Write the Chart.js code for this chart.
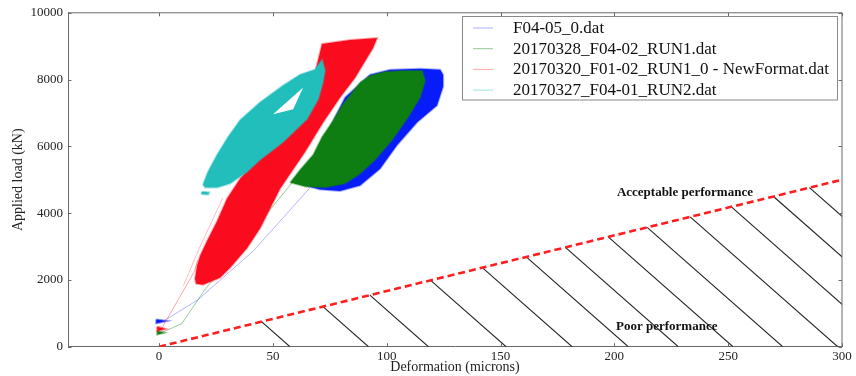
<!DOCTYPE html>
<html><head><meta charset="utf-8">
<script src="https://cdn.jsdelivr.net/npm/chart.js@4.4.0/dist/chart.umd.min.js"></script>
<style>html,body{margin:0;padding:0;background:#fff}#wrap{width:856px;height:376px}</style>
</head><body><div id="wrap"><canvas id="c" width="856" height="376"></canvas></div>
<script>
// ---- data (deformation in microns, applied load in kN) ----
const seriesNames = ['F04-05_0.dat', '20170328_F04-02_RUN1.dat', '20170320_F01-02_RUN1_0 - NewFormat.dat', '20170327_F04-01_RUN2.dat'];
const xTickValues = [0, 50, 100, 150, 200, 250, 300];
const yTickValues = [0, 2000, 4000, 6000, 8000, 10000];

// envelopes of the dense cyclic loops
const blueLoopX = [64.1, 70.7, 79.5, 88.3, 97.1, 104.6, 113.4, 122.1, 124.8, 124.8, 123.5, 114.7, 101.5, 92.7, 81.7, 75.1, 67.2];
const blueLoopY = [4825, 4706, 4662, 4825, 5329, 6041, 6723, 7227, 7791, 8147, 8295, 8325, 8295, 8147, 7465, 6575, 5389];
const greenLoopX = [57.6, 62.0, 67.7, 71.6, 76.0, 80.4, 84.8, 88.3, 92.7, 99.3, 108.1, 115.6, 116.9, 114.7, 109.4, 102.4, 94.9, 88.3, 81.7, 72.9, 64.1];
const greenLoopY = [4915, 5300, 5745, 6278, 6723, 7227, 7613, 7909, 8117, 8235, 8265, 8265, 7968, 7465, 6872, 6190, 5597, 5181, 4885, 4766, 4796];
const redLoopX = [15.8, 16.7, 18.0, 21.1, 25.5, 29.9, 35.6, 46.6, 57.6, 65.5, 68.5, 71.6, 83.9, 95.8, 94.0, 91.4, 86.1, 79.5, 72.1, 64.1, 57.6, 53.2, 48.8, 44.4, 38.7, 31.2, 26.8, 19.3, 16.3];
const redLoopY = [2037, 2423, 2719, 3164, 3757, 4440, 5033, 5893, 6782, 7613, 8206, 9066, 9185, 9244, 8947, 8651, 8058, 7465, 6723, 5834, 5181, 4736, 4143, 3550, 2957, 2364, 2067, 1859, 1888];
const cyanLoopX = [19.3, 21.5, 25.5, 30.3, 35.6, 44.4, 54.5, 62.0, 68.5, 71.6, 72.9, 72.0, 69.9, 65.0, 54.5, 44.4, 38.7, 31.2, 25.5, 20.2];
const cyanLoopY = [4858, 5243, 5748, 6282, 6786, 7320, 7825, 8151, 8299, 8596, 8270, 7914, 7409, 6816, 6133, 5599, 5243, 4887, 4769, 4769];
const cyanHoleX = [50.1, 63.3, 58.9];
const cyanHoleY = [6962, 7764, 7112];
const cyanDotX = [18.8, 22.0, 21.6, 18.8];
const cyanDotY = [4640, 4620, 4560, 4570];

// first-load paths from the origin
const blueStartX = [-1.2, 3.4, -1.2];   const blueStartY = [815, 770, 705];
const redStartX = [-0.8, 2.8, -0.8];    const redStartY = [600, 530, 470];
const greenStartX = [-0.8, 2.2, -0.8];  const greenStartY = [470, 418, 365];
const blueTrailX = [2, 17, 41.4, 66];   const blueTrailY = [770, 1400, 2868, 4738];
const greenTrailX = [1, 10, 20, 60];    const greenTrailY = [420, 690, 1700, 5040];
const redTrailX = [1, 15.5, 17];        const redTrailY = [530, 2250, 2600];
const redStrandX = [10.7, 18, 28];      const redStrandY = [1830, 3000, 4450];

// performance criterion and hatching
const criterionX = [0, 300];
const criterionY = [0, 5000];
const hatchStartX = [45, 72, 92.6, 119.3, 142, 161.3, 178.5, 197.3, 214.4, 233.3, 251.4, 269.9, 285.7];
const hatchSlope = -60; // kN per micron
const acceptableLabel = {text: 'Acceptable performance', x: 231, y: 4600};
const poorLabel = {text: 'Poor performance', x: 223, y: 612};

// ---- build datasets ----
const pts = (xs, ys) => xs.map((v, i) => ({x: v, y: ys[i]}));
const closed = (xs, ys) => { const p = pts(xs, ys); p.push({...p[0]}); return p; };
const critSlope = (criterionY[1] - criterionY[0]) / (criterionX[1] - criterionX[0]);

const COL = {
  blue: 'rgb(8,28,250)', green: 'rgb(14,126,18)', red: 'rgb(250,12,30)', cyan: 'rgb(34,190,188)'
};
const legendLines = ['rgba(70,70,255,0.45)', 'rgba(20,130,20,0.45)', 'rgba(255,40,40,0.4)', 'rgba(30,200,190,0.45)'];

const datasets = [];
function loop(xs, ys, fillCol, edgeCol, order, extra) {
  datasets.push(Object.assign({data: closed(xs, ys), showLine: true, borderColor: edgeCol, borderWidth: 2,
    pointRadius: 0, polyFill: fillCol, order: order}, extra || {}));
}
function path(xs, ys, col, w, order) {
  datasets.push({data: pts(xs, ys), showLine: true, borderColor: col, borderWidth: w, pointRadius: 0, order: order});
}
// blue (bottom), green, red, cyan (top)
path(blueTrailX, blueTrailY, 'rgba(90,90,255,0.45)', 1, 40);
loop(blueStartX, blueStartY, COL.blue, 'rgba(8,28,250,0.5)', 39);
loop(blueLoopX, blueLoopY, COL.blue, 'rgba(8,28,250,0.35)', 38);
path(greenTrailX, greenTrailY, 'rgba(30,140,30,0.45)', 1, 30);
loop(greenStartX, greenStartY, COL.green, 'rgba(14,126,18,0.5)', 29);
loop(greenLoopX, greenLoopY, COL.green, 'rgba(14,126,18,0.35)', 28);
path(redTrailX, redTrailY, 'rgba(255,60,60,0.45)', 1, 20);
path(redStrandX, redStrandY, 'rgba(255,60,60,0.35)', 1, 20);
loop(redStartX, redStartY, COL.red, 'rgba(250,12,30,0.5)', 19);
loop(redLoopX, redLoopY, COL.red, 'rgba(250,12,30,0.35)', 18);
loop(cyanDotX, cyanDotY, COL.cyan, 'rgba(34,190,188,0.5)', 11);
loop(cyanLoopX, cyanLoopY, COL.cyan, 'rgba(34,190,188,0.4)', 10, {holeX: cyanHoleX, holeY: cyanHoleY});
hatchStartX.forEach(x0 => {
  const y0 = x0 * critSlope;
  datasets.push({data: [{x: x0, y: y0}, {x: x0 - y0 / hatchSlope, y: 0}], showLine: true,
    borderColor: '#222', borderWidth: 1.1, pointRadius: 0, order: 50});
});
datasets.push({data: pts(criterionX, criterionY), showLine: true, borderColor: 'rgb(255,30,30)', borderWidth: 2.6,
  borderDash: [7, 4], pointRadius: 0, order: 0});

// ---- plugins ----
const polyFill = {
  id: 'polyFill',
  beforeDatasetDraw(chart, args) {
    const ds = chart.data.datasets[args.index];
    if (!ds.polyFill) return;
    const {ctx, chartArea: a, scales: {x, y}} = chart;
    const p = args.meta.data;
    ctx.save();
    ctx.beginPath(); ctx.rect(a.left, a.top, a.right - a.left, a.bottom - a.top); ctx.clip();
    ctx.beginPath();
    p.forEach((pt, i) => i ? ctx.lineTo(pt.x, pt.y) : ctx.moveTo(pt.x, pt.y));
    ctx.closePath();
    if (ds.holeX) {
      ds.holeX.forEach((hx, i) => {
        const px = x.getPixelForValue(hx), py = y.getPixelForValue(ds.holeY[i]);
        i ? ctx.lineTo(px, py) : ctx.moveTo(px, py);
      });
      ctx.closePath();
    }
    ctx.fillStyle = ds.polyFill;
    ctx.fill('evenodd');
    ctx.restore();
  }
};

const SERIF = "'Liberation Serif', 'DejaVu Serif', serif";
const frame = {
  id: 'frame',
  afterDraw(chart) {
    const {ctx, chartArea: a, scales: {x, y}} = chart;
    ctx.save();
    ctx.strokeStyle = '#6a6a6a'; ctx.lineWidth = 1;
    ctx.beginPath();
    ctx.moveTo(a.left, a.top); ctx.lineTo(a.right, a.top);
    ctx.moveTo(a.right, a.top); ctx.lineTo(a.right, a.bottom);
    const tl = 3.5;
    xTickValues.forEach(v => {
      const px = Math.round(x.getPixelForValue(v)) + 0.5;
      ctx.moveTo(px, a.bottom); ctx.lineTo(px, a.bottom - tl);
      ctx.moveTo(px, a.top); ctx.lineTo(px, a.top + tl);
    });
    yTickValues.forEach(v => {
      const py = Math.round(y.getPixelForValue(v)) + 0.5;
      ctx.moveTo(a.left, py); ctx.lineTo(a.left + tl, py);
      ctx.moveTo(a.right, py); ctx.lineTo(a.right - tl, py);
    });
    ctx.stroke();

    // region labels
    ctx.fillStyle = '#111';
    ctx.font = 'bold 13px ' + SERIF;
    ctx.textAlign = 'center'; ctx.textBaseline = 'middle';
    [acceptableLabel, poorLabel].forEach(l => ctx.fillText(l.text, x.getPixelForValue(l.x), y.getPixelForValue(l.y)));

    // legend box
    const bx = 462, by = 16, bw = 375, bh = 83.5;
    ctx.fillStyle = '#fff';
    ctx.fillRect(bx, by, bw, bh);
    ctx.strokeStyle = '#8a8a8a';
    ctx.strokeRect(bx + 0.5, by + 0.5, bw, bh);
    ctx.font = '17px ' + SERIF;
    ctx.textAlign = 'left';
    seriesNames.forEach((name, i) => {
      const ry = 27.5 + i * 20.7;
      ctx.strokeStyle = legendLines[i]; ctx.lineWidth = 1;
      ctx.beginPath(); ctx.moveTo(473, ry + 0.5); ctx.lineTo(493, ry + 0.5); ctx.stroke();
      ctx.fillStyle = '#111';
      ctx.fillText(name, 513, ry + 1);
    });
    ctx.restore();
  }
};

new Chart(document.getElementById('c'), {
  type: 'scatter',
  data: {datasets},
  plugins: [polyFill, frame],
  options: {
    responsive: false, animation: false, devicePixelRatio: 1,
    layout: {padding: {top: 9.5, right: 14, left: 0, bottom: 0}},
    plugins: {legend: {display: false}, tooltip: {enabled: false}},
    elements: {point: {radius: 0}, line: {tension: 0}},
    scales: {
      x: {
        type: 'linear', min: -40, max: 300,
        afterBuildTicks: s => { s.ticks = xTickValues.map(v => ({value: v})); },
        afterFit: s => { s.height = 29.3; },
        grid: {display: true, drawOnChartArea: false, drawTicks: false},
        border: {display: true, color: '#6a6a6a', width: 1},
        ticks: {padding: 2, color: '#222', font: {family: SERIF, size: 13}, maxRotation: 0, autoSkip: false,
          callback: v => String(v)},
        title: {display: true, text: 'Deformation (microns)', color: '#222', font: {family: SERIF, size: 14}, padding: {top: 0, bottom: 0}}
      },
      y: {
        type: 'linear', min: 0, max: 10000,
        afterBuildTicks: s => { s.ticks = yTickValues.map(v => ({value: v})); },
        afterFit: s => { s.width = 68; },
        grid: {display: true, drawOnChartArea: false, drawTicks: false},
        border: {display: true, color: '#6a6a6a', width: 1},
        ticks: {padding: 5, color: '#222', font: {family: SERIF, size: 13}, autoSkip: false,
          callback: v => String(v)},
        title: {display: true, text: 'Applied load (kN)', color: '#222', font: {family: SERIF, size: 14}, padding: {top: 10, bottom: 0}}
      }
    }
  }
});
</script>
</body></html>
